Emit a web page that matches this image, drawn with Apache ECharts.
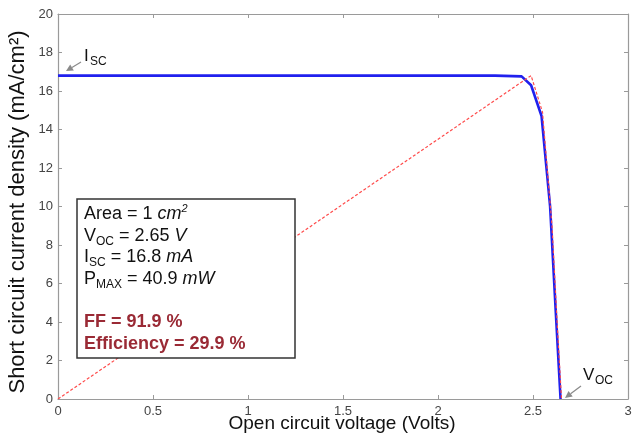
<!DOCTYPE html>
<html><head><meta charset="utf-8">
<script src="https://cdn.jsdelivr.net/npm/echarts@6/dist/echarts.min.js"></script>
<style>html,body{margin:0;padding:0;background:#fff}#c{width:632px;height:439px}</style>
</head><body><div id="c"></div>
<script>
const xTicks = [0, 0.5, 1, 1.5, 2, 2.5, 3];
const yTicks = [0, 2, 4, 6, 8, 10, 12, 14, 16, 18, 20];
const ivVoltage = [0, 1.0, 2.0, 2.3, 2.44, 2.49, 2.545, 2.59, 2.62, 2.645];
const ivCurrent = [16.8, 16.8, 16.8, 16.8, 16.76, 16.3, 14.7, 10.0, 4.5, 0];
const pmVoltage = [0, 2.49, 2.55, 2.6, 2.627, 2.65];
const pmCurrent = [0, 16.8, 14.9, 9.0, 4.0, 0];

const F = 'Liberation Sans, Arial, sans-serif';
const chart = echarts.init(document.getElementById('c'));
const axisCol = '#9a9a9a';
const commonX = {
  type: 'value', min: 0, max: 3, interval: 0.5,
  axisLine: {show: true, onZero: false, lineStyle: {color: axisCol, width: 1.2}},
  axisTick: {show: true, inside: true, length: 4, lineStyle: {color: axisCol}},
  splitLine: {show: false}
};
const commonY = {
  type: 'value', min: 0, max: 20, interval: 2,
  axisLine: {show: true, onZero: false, lineStyle: {color: axisCol, width: 1.2}},
  axisTick: {show: true, inside: true, length: 4, lineStyle: {color: axisCol}},
  splitLine: {show: false}
};
const txt = (x, y, text, size, extra) => Object.assign({
  type: 'text', x, y, z: 100,
  style: Object.assign({text, fill: '#111', font: size + 'px ' + F}, extra || {})
});
const boxX = 77, boxY = 199;
function measure(t, font) {
  const c = document.createElement('canvas').getContext('2d');
  c.font = font; return c.measureText(t).width;
}
function row(y, parts) {
  let x = boxX + 7;
  const els = [];
  parts.forEach(p => {
    const size = p.sub ? 12 : (p.sup ? 11 : 18);
    const font = (p.italic ? 'italic ' : '') + (p.bold ? 'bold ' : '') + size + 'px ' + F;
    const dy = p.sub ? 9 : (p.sup ? -2 : 0);
    els.push({type: 'text', x, y: y + dy, z: 100,
      style: {text: p.t, font, fill: p.color || '#111'}});
    x += measure(p.t, font);
  });
  return els;
}
const red = '#9a2a35';
const boxEls = [
  {type: 'rect', z: 90, shape: {x: boxX, y: boxY, width: 218, height: 159},
   style: {fill: '#fff', stroke: '#333', lineWidth: 1.5}},
  ...row(205, [{t: 'Area = 1 '}, {t: 'cm', italic: true}, {t: '2', sup: true, italic: true}]),
  ...row(227, [{t: 'V'}, {t: 'OC', sub: true}, {t: ' = 2.65 '}, {t: 'V', italic: true}]),
  ...row(248, [{t: 'I'}, {t: 'SC', sub: true}, {t: ' = 16.8 '}, {t: 'mA', italic: true}]),
  ...row(270, [{t: 'P'}, {t: 'MAX', sub: true}, {t: ' = 40.9 '}, {t: 'mW', italic: true}]),
  ...row(313, [{t: 'FF = 91.9 %', bold: true, color: red}]),
  ...row(335, [{t: 'Efficiency = 29.9 %', bold: true, color: red}])
];

function arrow(x1, y1, x2, y2) {
  const ang = Math.atan2(y2 - y1, x2 - x1), L = 7, W = 3.5;
  const bx = x2 - L * Math.cos(ang), by = y2 - L * Math.sin(ang);
  const px = -Math.sin(ang) * W, py = Math.cos(ang) * W;
  return [
    {type: 'line', z: 100, shape: {x1, y1, x2: bx, y2: by}, style: {stroke: '#8a8a8a', lineWidth: 1.2}},
    {type: 'polygon', z: 100, shape: {points: [[x2, y2], [bx + px, by + py], [bx - px, by - py]]},
     style: {fill: '#8a8a8a'}}
  ];
}
const annEls = [
  txt(84, 48, 'I', 17), txt(90, 56, 'SC', 12),
  ...arrow(81, 62, 66, 71),
  txt(583, 367, 'V', 17), txt(595, 375, 'OC', 12),
  ...arrow(581, 386, 565, 398),
  {type: 'text', x: 18, y: 212, rotation: Math.PI / 2, z: 100,
   style: {text: 'Short circuit current density (mA/cm²)', font: '22px ' + F, fill: '#111',
     align: 'center', verticalAlign: 'middle'}},
  {type: 'text', x: 342, y: 424, z: 100,
   style: {text: 'Open circuit voltage (Volts)', font: '19px ' + F, fill: '#111',
     align: 'center', verticalAlign: 'middle'}}
];

chart.setOption({
  animation: false,
  backgroundColor: '#fff',
  grid: {left: 58, right: 4, top: 14, bottom: 40, outerBoundsMode: 'none', containLabel: false},
  xAxis: [
    Object.assign({}, commonX, {position: 'bottom',
      axisLabel: {fontFamily: F, fontSize: 13, color: '#444', margin: 6,
        formatter: v => xTicks.includes(v) ? String(v) : ''}}),
    Object.assign({}, commonX, {position: 'top', axisLabel: {show: false}})
  ],
  yAxis: [
    Object.assign({}, commonY, {position: 'left',
      axisLabel: {fontFamily: F, fontSize: 13, color: '#444', margin: 5,
        formatter: v => yTicks.includes(v) ? String(v) : ''}}),
    Object.assign({}, commonY, {position: 'right', axisLabel: {show: false}})
  ],
  series: [
    {type: 'line', name: 'pmax', data: pmVoltage.map((v, i) => [v, pmCurrent[i]]),
     symbol: 'none', z: 3, lineStyle: {color: '#ff4a4a', width: 1.2, type: [3, 2]}},
    {type: 'line', name: 'iv', data: ivVoltage.map((v, i) => [v, ivCurrent[i]]),
     symbol: 'none', z: 2, lineStyle: {color: '#2020ee', width: 2.6}}
  ],
  graphic: [...boxEls, ...annEls]
});
</script>
</body></html>
